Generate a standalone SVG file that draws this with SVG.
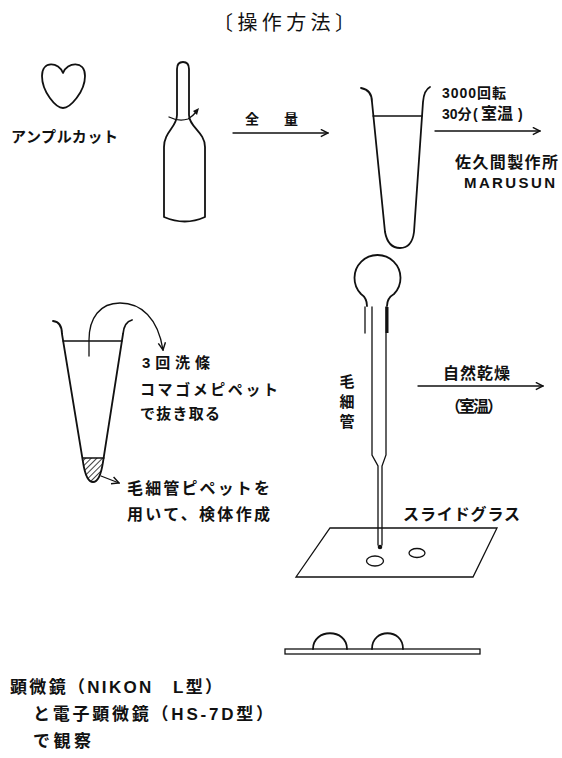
<svg xmlns="http://www.w3.org/2000/svg" width="562" height="758" viewBox="0 0 562 758">
  <style>
    .ln { fill: none; stroke: #111; stroke-width: 1.8; stroke-linecap: round; stroke-linejoin: round; }
    .thin { fill: none; stroke: #111; stroke-width: 1.3; stroke-linecap: round; }
    .lbl { font-family: "Liberation Sans", "Noto Sans CJK JP", sans-serif; font-weight: 700; fill: #111; }
    .title { font-family: "Noto Sans CJK JP", "Noto Sans", sans-serif; font-weight: 400; fill: #111; }
  </style>
  <defs>
    <marker id="arrow" viewBox="0 0 10 10" refX="9" refY="5" markerWidth="9" markerHeight="9" markerUnits="userSpaceOnUse" orient="auto">
      <path d="M1,1 L9,5 L1,9" fill="none" stroke="#111" stroke-width="1.6"/>
    </marker>
    <pattern id="hatch" width="4" height="4" patternUnits="userSpaceOnUse" patternTransform="rotate(45)">
      <line x1="0" y1="0" x2="0" y2="4" stroke="#111" stroke-width="1.6"/>
    </pattern>
    <clipPath id="sediment">
      <path d="M82,458 L104,458 L103,464 Q101,482 93,482 Q85,482 83,464 Z"/>
    </clipPath>
  </defs>

  <rect width="562" height="758" fill="#fff"/>

  <text class="title" x="213" y="30" font-size="20" textLength="142" lengthAdjust="spacing">〔操作方法〕</text>

  <!-- ampoule cut -->
  <g id="heart">
    <path class="ln" d="M63,73 C59,62 42,60 42,76 C42,92 56,108 63,108 C70,108 85,92 85,76 C85,60 67,62 63,73 Z"/>
    <text class="lbl" x="11" y="142" font-size="15" textLength="107" lengthAdjust="spacing">アンプルカット</text>
  </g>

  <g id="ampoule">
    <path class="ln" d="M177,115 L177,69 Q177,62 183,62 Q189,62 189,69 L189,115 C189,127 205,132 205,147 L205,217 Q185,226 164,217 L164,147 C164,132 177,127 177,115 Z"/>
    <path class="thin" d="M169,117 Q179,122 188,119 Q193,116 196,112"/>
    <path d="M193,111 L199,108 L197,115 Z" fill="#111"/>
  </g>

  <!-- centrifuge tube -->
  <g id="tube1">
    <path class="ln" d="M361,88 Q372,90 372,102 L385,232 Q388,248 400,248 Q412,248 414,232 L423,102 Q424,90 430,87"/>
    <line class="thin" x1="373" y1="116" x2="422" y2="116"/>
    <text class="lbl" x="442" y="98" font-size="14" textLength="64" lengthAdjust="spacing">3000回転</text>
    <text class="lbl" y="119" font-size="14"><tspan x="442">30分</tspan><tspan x="473">(</tspan><tspan x="481" font-size="16">室温</tspan><tspan x="518">)</tspan></text>
    <text class="lbl" x="455" y="168" font-size="16" textLength="103" lengthAdjust="spacing">佐久間製作所</text>
    <text class="lbl" x="464" y="188" font-size="15" textLength="91" lengthAdjust="spacing">MARUSUN</text>
  </g>

  <!-- washing tube -->
  <g id="tube2">
    <path d="M82,458 L104,458 L103,464 Q101,482 93,482 Q85,482 83,464 Z" fill="url(#hatch)" clip-path="url(#sediment)"/>
    <path class="ln" d="M53,321 Q62,322 62,334 L83,462 Q86,482 93,482 Q100,482 103,462 L123,334 Q124,322 132,320"/>
    <line class="thin" x1="63" y1="341" x2="122" y2="341"/>
    <line class="thin" x1="83" y1="458" x2="104" y2="458"/>
    <text class="lbl" x="142" y="368" font-size="15" textLength="68" lengthAdjust="spacing">3回洗條</text>
    <text class="lbl" x="140" y="395" font-size="15" textLength="138" lengthAdjust="spacing">コマゴメピペット</text>
    <text class="lbl" x="140" y="419" font-size="15" textLength="80" lengthAdjust="spacing">で抜き取る</text>
    <text class="lbl" x="127" y="494" font-size="16" textLength="143" lengthAdjust="spacing">毛細管ピペットを</text>
    <text class="lbl" x="127" y="520" font-size="16" textLength="143" lengthAdjust="spacing">用いて、検体作成</text>
  </g>

  <!-- capillary pipette -->
  <g id="pipette">
    <path class="ln" d="M367,306 Q367,298 361,294 A23,23 0 1 1 394,294 Q387,298 387,306"/>
    <line class="thin" x1="365" y1="307" x2="365" y2="333"/>
    <line x1="387" y1="307" x2="387" y2="333" stroke="#111" stroke-width="3"/>
    <path class="thin" d="M372,307 L372,455 L378,466 L378,545"/>
    <path class="thin" d="M386,307 L386,455 L382,466 L382,545"/>
    <circle cx="380" cy="547" r="2.3" fill="#111"/>
    <text class="lbl" x="347" y="387" font-size="15" text-anchor="middle">毛</text>
    <text class="lbl" x="347" y="407" font-size="15" text-anchor="middle">細</text>
    <text class="lbl" x="347" y="427" font-size="15" text-anchor="middle">管</text>
  </g>

  <!-- slide glass -->
  <g id="slide">
    <polygon class="thin" points="330,528 497,528 473,577 296,577"/>
    <ellipse class="thin" cx="375" cy="561" rx="8.5" ry="5"/>
    <ellipse class="thin" cx="417" cy="553" rx="8" ry="4.5"/>
    <text class="lbl" x="403" y="520" font-size="16" textLength="117" lengthAdjust="spacing">スライドグラス</text>
  </g>

  <g id="drying">
    <text class="lbl" x="443" y="379" font-size="16" textLength="67" lengthAdjust="spacing">自然乾燥</text>
    <text class="lbl" x="445" y="412" font-size="16" textLength="58" lengthAdjust="spacing">（室温）</text>
  </g>

  <!-- slide in side view -->
  <g id="slide-side">
    <rect class="thin" x="285" y="649" width="195" height="5"/>
    <path class="ln" d="M313,649 C313,628 347,628 347,649"/>
    <path class="ln" d="M372,649 C372,628 403,628 403,649"/>
  </g>

  <g id="observation">
    <text class="lbl" x="10" y="693" font-size="17" textLength="212" lengthAdjust="spacing">顕微鏡（NIKON　L型）</text>
    <text class="lbl" x="33" y="720" font-size="17" textLength="240" lengthAdjust="spacing">と電子顕微鏡（HS-7D型）</text>
    <text class="lbl" x="33" y="747" font-size="17" textLength="58" lengthAdjust="spacing">で観察</text>
  </g>

  <g id="transfer-label">
    <text class="lbl" x="245" y="124" font-size="14">全</text>
    <text class="lbl" x="284" y="124" font-size="14">量</text>
  </g>

  <g id="connectors">
    <line class="thin" x1="233" y1="133" x2="328" y2="133" marker-end="url(#arrow)"/>
    <line class="thin" x1="435" y1="131" x2="540" y2="131" marker-end="url(#arrow)"/>
    <line class="thin" x1="418" y1="386" x2="543" y2="386" marker-end="url(#arrow)"/>
    <path class="thin" d="M89,356 L89,340 C89,318 100,303 120,303 C141,303 158,318 163,350" marker-end="url(#arrow)"/>
    <line class="thin" x1="101" y1="476" x2="119" y2="483" marker-end="url(#arrow)"/>
  </g>
</svg>
